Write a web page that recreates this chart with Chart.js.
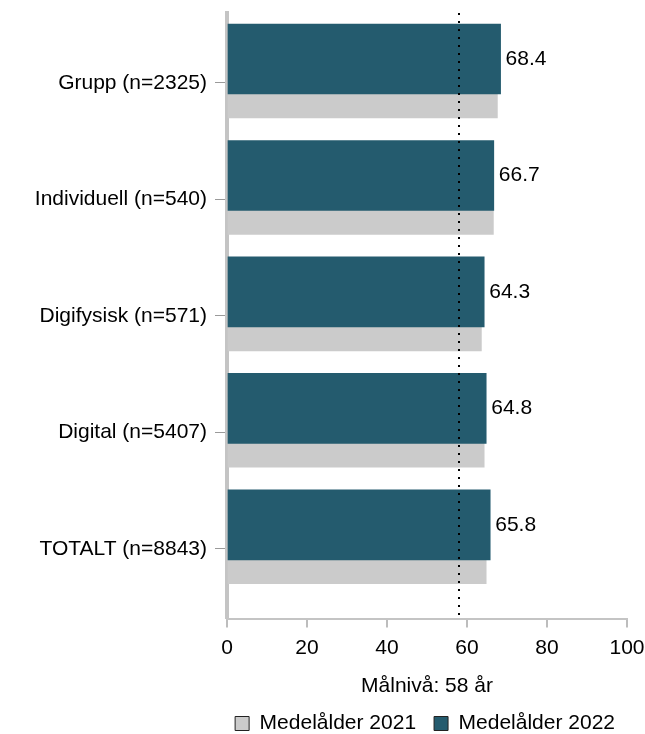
<!DOCTYPE html>
<html lang="sv">
<head>
<meta charset="utf-8">
<title>Medelålder per form</title>
<script src="https://cdn.jsdelivr.net/npm/chart.js@4.4.1/dist/chart.umd.min.js"></script>
<style>
    html, body { margin: 0; padding: 0; background: #fff; }
    #wrap { width: 645px; height: 734px; position: relative; }
</style>
</head>
<body>
<div id="wrap"><canvas id="chartAlder"></canvas></div>
<script>
const kategorier = ["Grupp (n=2325)", "Individuell (n=540)", "Digifysisk (n=571)", "Digital (n=5407)", "TOTALT (n=8843)"];
const alder2021 = [67.6, 66.6, 63.6, 64.3, 64.8];
const alder2022 = [68.4, 66.7, 64.3, 64.8, 65.8];
const xTicks = [0, 20, 40, 60, 80, 100];
const malniva = 58;

const FONT = "'Liberation Sans', Arial, sans-serif";
const MORK = "#245b6e";
const GRA = "#cbcbcb";
// 2022-staplarna ligger lite ovanför kategorins mitt
const FORSKJUTNING = 0.205;

// värdeetiketter till höger om 2022-staplarna
const etiketter = {
    id: "etiketter",
    afterDatasetsDraw(chart) {
        const ctx = chart.ctx;
        const meta = chart.getDatasetMeta(0);
        ctx.save();
        ctx.font = "21px " + FONT;
        ctx.fillStyle = "#000";
        ctx.textAlign = "left";
        ctx.textBaseline = "middle";
        meta.data.forEach((bar, i) => {
            ctx.fillText(alder2022[i].toFixed(1), bar.x + 5, bar.y);
        });
        ctx.restore();
    }
};

// prickad linje för målnivån
const malLinje = {
    id: "malLinje",
    afterDatasetsDraw(chart) {
        const ctx = chart.ctx;
        const x = chart.scales.x.getPixelForValue(malniva);
        const area = chart.chartArea;
        ctx.save();
        ctx.strokeStyle = "#000";
        ctx.lineWidth = 2;
        ctx.setLineDash([2, 6]);
        ctx.beginPath();
        ctx.moveTo(x, area.top);
        ctx.lineTo(x, area.bottom);
        ctx.stroke();
        ctx.restore();
    }
};

const ctx = document.getElementById("chartAlder").getContext("2d");

new Chart(ctx, {
    type: "bar",
    data: {
        datasets: [
            {
                label: "Medelålder 2022",
                data: alder2022.map((v, i) => ({ x: v, y: i - FORSKJUTNING })),
                backgroundColor: MORK,
                barThickness: 70,
                grouped: false
            },
            {
                label: "Medelålder 2021",
                data: alder2021.map((v, i) => ({ x: v, y: i })),
                backgroundColor: GRA,
                barThickness: 70,
                grouped: false
            }
        ]
    },
    options: {
        indexAxis: "y",
        responsive: true,
        maintainAspectRatio: false,
        animation: false,
        layout: { padding: { top: 13, right: 12, left: 0, bottom: -10 } },
        scales: {
            x: {
                type: "linear",
                min: 0,
                max: 100,
                afterBuildTicks(scale) {
                    scale.ticks = xTicks.map(v => ({ value: v }));
                },
                afterFit(scale) {
                    scale.paddingLeft = 0;
                    scale.paddingRight = 18;
                },
                grid: { drawOnChartArea: false, color: "#bdbdbd", tickLength: 9, lineWidth: 2 },
                border: { color: "#c4c4c4", width: 2 },
                ticks: { color: "#000", font: { family: FONT, size: 21 }, padding: 8 },
                title: {
                    display: true,
                    text: "Målnivå: 58 år",
                    color: "#000",
                    font: { family: FONT, size: 21 },
                    padding: { top: 5, bottom: -4 }
                }
            },
            y: {
                type: "linear",
                reverse: true,
                offset: false,
                min: -0.6,
                max: 4.6,
                afterBuildTicks(scale) {
                    scale.ticks = kategorier.map((k, i) => ({ value: i }));
                },
                afterFit(scale) {
                    scale.width = 227;
                    scale.paddingTop = 0;
                    scale.paddingBottom = 0;
                },
                grid: { drawOnChartArea: false, offset: false, color: "#9a9a9a", tickLength: 12 },
                border: { color: "#c4c4c4", width: 4 },
                ticks: {
                    color: "#000",
                    font: { family: FONT, size: 21 },
                    padding: 8,
                    callback: (v) => kategorier[v]
                }
            }
        },
        plugins: {
            legend: {
                position: "bottom",
                align: "end",
                reverse: true,
                labels: {
                    color: "#000",
                    font: { family: FONT, size: 21 },
                    boxWidth: 14,
                    boxHeight: 14,
                    padding: 18,
                    generateLabels(chart) {
                        return chart.data.datasets.map((d, i) => ({
                            text: d.label,
                            fillStyle: d.backgroundColor,
                            strokeStyle: "#222",
                            lineWidth: 1,
                            fontColor: "#000",
                            hidden: false,
                            datasetIndex: i
                        }));
                    }
                }
            },
            tooltip: { enabled: false }
        }
    },
    plugins: [etiketter, malLinje]
});
</script>
</body>
</html>
